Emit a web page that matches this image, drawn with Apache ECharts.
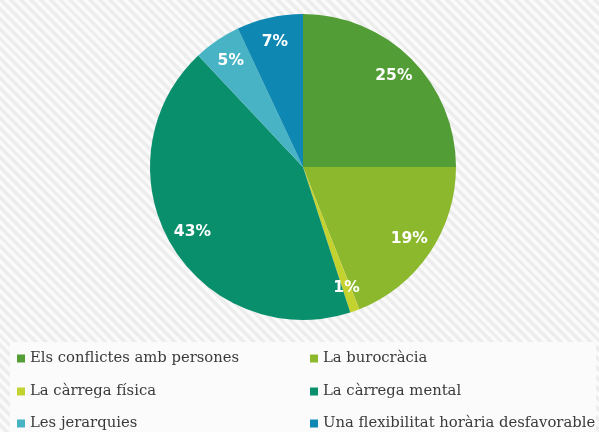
<!DOCTYPE html>
<html>
<head>
<meta charset="utf-8">
<script src="https://cdn.jsdelivr.net/npm/echarts@6/dist/echarts.min.js"></script>
<style>
html,body{margin:0;padding:0;}
body{width:599px;height:432px;overflow:hidden;
background:repeating-linear-gradient(45deg,#fafafa 0px,#fafafa 3.5px,#ededed 3.5px,#ededed 7px);}
#c{width:599px;height:432px;}
</style>
</head>
<body>
<div id="c"></div>
<script>
const categories = ["Els conflictes amb persones","La burocràcia","La càrrega física","La càrrega mental","Les jerarquies","Una flexibilitat horària desfavorable"];
const values = [25,19,1,43,5,7];
const colors = ["#529d35","#8cb82e","#c4d230","#0a8f6c","#47b3c4","#0e88b2"];

const data = categories.map((n,i)=>({name:n,value:values[i],itemStyle:{color:colors[i]}}));
const labelData = categories.map((n,i)=>({name:n,value:values[i],itemStyle:{color:'rgba(0,0,0,0)'}}));

const chart = echarts.init(document.getElementById('c'),null,{renderer:'canvas'});
const legendText = {fontFamily:'DejaVu Serif',fontSize:14.8,color:'#3a3a3a'};
const colLeft = [14,307];
const rowTop = [349,382,414];
const legends = categories.map((n,i)=>({
  orient:'horizontal',left:colLeft[i%2],top:rowTop[Math.floor(i/2)],
  itemWidth:8,itemHeight:8,icon:'rect',itemGap:5,
  data:[n],textStyle:legendText,selectedMode:false,padding:[2,3]
}));
chart.setOption({
  animation:false,
  backgroundColor:'transparent',
  graphic:[{type:'rect',z:-10,shape:{x:10,y:342,width:586,height:100},style:{fill:'#fbfbfb'}}],
  legend:legends,
  series:[
    {type:'pie',center:[303,167],radius:[0,153],startAngle:90,clockwise:true,
     label:{show:false},labelLine:{show:false},data:data,silent:true,
     itemStyle:{borderWidth:0}},
    {type:'pie',center:[303,167],radius:[98,153],startAngle:90,clockwise:true,silent:true,
     legendHoverLink:false,
     label:{show:true,position:'inside',formatter:'{c}%',color:'#ffffff',fontWeight:'bold',
            fontFamily:'DejaVu Sans',fontSize:15.5},
     labelLine:{show:false},data:labelData,itemStyle:{borderWidth:0}}
  ]
});
</script>
</body>
</html>
